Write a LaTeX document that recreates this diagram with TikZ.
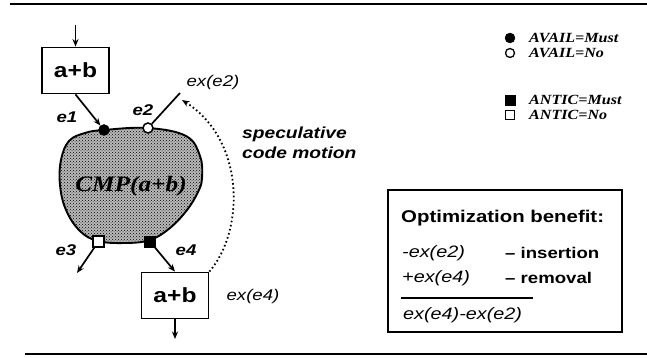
\documentclass[tikz,border=0pt]{standalone}
\usepackage{fontspec}
\setmainfont{Liberation Serif}
\newfontfamily\hv{Liberation Sans}
\newfontfamily\tm{Liberation Serif}
\usetikzlibrary{arrows.meta,patterns}
\newcommand{\sx}[2][1.2]{\scalebox{#1}[1]{#2}}

\begin{document}
\begin{tikzpicture}[x=1pt,y=-1pt,
 ln/.style={line width=1.7pt},
 arr/.style={ln,-{Stealth[length=7.5pt,width=6pt]}},
 box/.style={draw,line width=1.8pt,minimum width=67pt,minimum height=46pt,inner sep=0pt,font=\hv\bfseries\fontsize{20.5}{24}\selectfont},
 lbl/.style={inner sep=0pt,font=\hv\bfseries\itshape\fontsize{15.5}{18}\selectfont},
 exl/.style={inner sep=0pt,font=\hv\itshape\fontsize{15.5}{18}\selectfont},
 leg/.style={inner sep=0pt,anchor=west,font=\tm\bfseries\itshape\fontsize{14}{16}\selectfont},
 frm/.style={inner sep=0pt,anchor=west,font=\hv\itshape\fontsize{16.5}{19}\selectfont},
 bnote/.style={inner sep=0pt,anchor=west,font=\hv\bfseries\fontsize{15.5}{18}\selectfont},
 dotf/.style={circle,fill=black,draw=black,inner sep=0pt,minimum size=11pt},
 doto/.style={circle,fill=white,draw=black,line width=1.5pt,inner sep=0pt,minimum size=10pt},
 sqf/.style={rectangle,fill=black,draw=black,inner sep=0pt,minimum size=11pt},
 sqo/.style={rectangle,fill=white,draw=black,line width=1.4pt,inner sep=0pt,minimum size=11pt},
 rule/.style={line width=1.8pt}
]
\useasboundingbox (0,0) rectangle (647,358);

% rules
\coordinate (t1) at (10,4); \coordinate (t2) at (647,4);
\draw[rule] (t1) -- (t2);
\coordinate (b1) at (25,354); \coordinate (b2) at (647,354);
\draw[rule,line width=1.4pt] (b1) -- (b2);

% blob
\def\blob{plot[smooth cycle,tension=0.65] coordinates{
 (104,130) (148,128) (186,136) (200,156) (202,178) (198,192) (187,210) (170,228) (150,240)
 (125,243) (98,241) (80,231) (66,210) (60,185) (61,160) (69,141) (85,133)}}
\fill[gray!55] \blob;
\path[pattern=crosshatch dots,pattern color=black] \blob;
\draw[line width=1.9pt] \blob;
\node[inner sep=0pt,font=\tm\bfseries\itshape\fontsize{22}{24}\selectfont] (cmp) at (131,186) {\sx[1.15]{CMP(a+b)}};

% boxes
\node[box] (box1) at (75.5,70.5) {\sx{a+b}};
\node[box] (box2) at (175,295.5) {\sx{a+b}};
\coordinate (in1) at (75.5,25);
\coordinate (out2) at (175,339);
\draw[arr] (in1) -- (box1.north);
\draw[arr] (box2.south) -- (out2);

% markers on blob
\node[dotf] (d1) at (104,130) {};
\node[doto] (d2) at (148,128) {};
\node[sqo] (s3) at (98.5,241.5) {};
\node[sqf] (s4) at (150,241.5) {};

\coordinate (ex2end) at (180,93);
\coordinate (e3end) at (77,273);
\draw[arr] (box1.south) -- (d1);
\draw[ln] (d2) -- (ex2end);
\draw[arr] (s3) -- (e3end);
\draw[arr] (s4) -- (box2.north);

% dotted speculative arc
\coordinate (arctip) at (182,100);
\draw[line width=1.8pt,dash pattern=on 1.6pt off 2.6pt,-{Stealth[length=7.5pt,width=6pt]}]
  (box2.north east) .. controls (245,230) and (245,140) .. (arctip);

% labels
\node[lbl] (le1) at (67,117) {\sx{e1}};
\node[lbl] (le2) at (143,110) {\sx{e2}};
\node[exl] (lex2) at (213,82) {\sx{ex(e2)}};
\node[lbl] (le3) at (66,250) {\sx{e3}};
\node[lbl] (le4) at (186,250) {\sx{e4}};
\node[exl] (lex4) at (253,296) {\sx{ex(e4)}};
\node[lbl,anchor=west,align=left,font=\hv\bfseries\itshape\fontsize{16}{20}\selectfont] (spec) at (242,143) {\sx{speculative}\\\sx{code motion}};

% legend
\node[dotf,minimum size=10pt] (g1) at (510,38) {};
\node[leg] (gt1) at (529,38) {\sx[1.15]{AVAIL=Must}};
\node[doto,minimum size=9pt,line width=1.3pt] (g2) at (510,53) {};
\node[leg] (gt2) at (529,53) {\sx[1.15]{AVAIL=No}};
\node[sqf,minimum size=10pt] (g3) at (510,100) {};
\node[leg] (gt3) at (529,100) {\sx[1.15]{ANTIC=Must}};
\node[sqo,minimum size=9.5pt] (g4) at (510,115) {};
\node[leg] (gt4) at (529,115) {\sx[1.15]{ANTIC=No}};

% optimization box
\node[draw,line width=1.3pt,minimum width=234pt,minimum height=142pt,inner sep=0pt] (ob) at (505,261) {};
\node[inner sep=0pt,anchor=west,font=\hv\bfseries\fontsize{17}{20}\selectfont] (obt) at (401,218) {\sx{Optimization benefit:}};
\node[frm] (f1) at (402,253) {\sx{-ex(e2)}};
\node[bnote] (n1) at (505,253) {\sx{– insertion}};
\node[frm] (f2) at (402,278) {\sx{+ex(e4)}};
\node[bnote] (n2) at (505,278) {\sx{– removal}};
\coordinate (r1) at (401,298); \coordinate (r2) at (533,298);
\draw[line width=1.3pt] (r1) -- (r2);
\node[frm] (f3) at (403,315) {\sx{ex(e4)-ex(e2)}};
\end{tikzpicture}
\end{document}
